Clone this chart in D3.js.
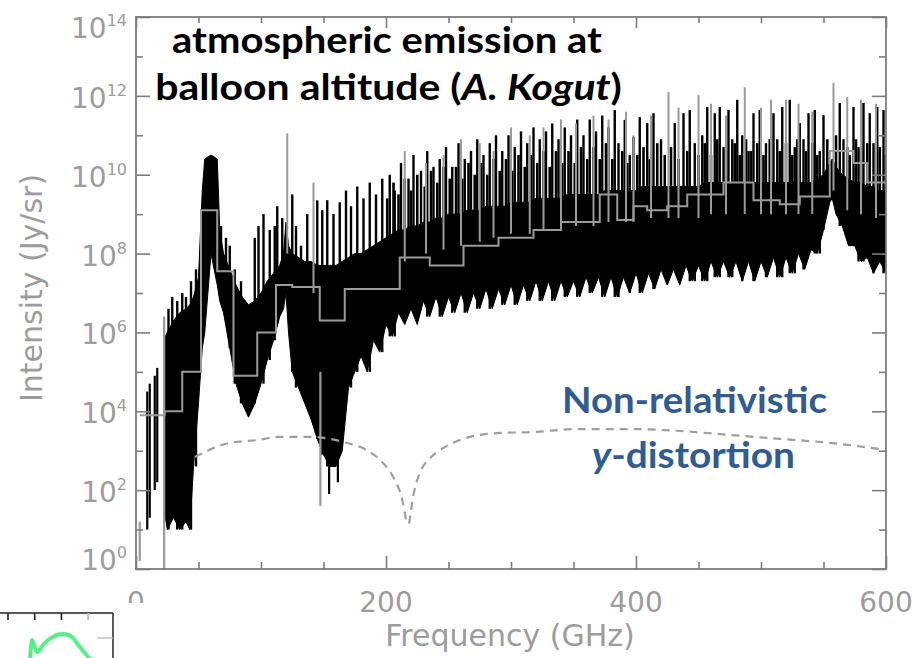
<!DOCTYPE html>
<html>
<head>
<meta charset="utf-8">
<script src="https://cdn.jsdelivr.net/npm/d3@7"></script>
<style>
  html, body { margin: 0; padding: 0; background: #fff; }
  svg { display: block; }
</style>
</head>
<body>
<svg id="chart" width="918" height="658"></svg>
<script>
// ---------- data (intensities given as log10 of Jy/sr) ----------

// dense atmospheric band: lower and upper edge of the solid black region
const bandFreq = [22,25,30,35,40,43,46,50,53,55,60,65,67,70,75,80,85,90,95,100,105,110,115,118,120,122,125,130,135,140,145,150,155,160,165,170,175,180,185,190,195,200,
  205,210,215,220,225,230,235,240,245,250,255,260,265,270,275,280,285,290,295,300,305,310,315,320,325,330,335,340,345,350,355,360,365,370,375,380,385,390,395,400,
  405,410,415,420,425,430,435,440,445,450,455,460,465,470,475,480,485,490,495,500,505,510,515,520,525,530,535,540,545,550,555,557,560,565,570,575,580,585,590,595,600];
const bandLow = [1.6,1.0,1.3,1.0,1.2,1.0,2.6,4.2,5.6,6.0,8.0,7.2,6.8,6.5,5.6,4.7,4.2,3.85,4.2,4.7,5.3,5.8,6.4,6.6,7.0,6.0,5.0,4.6,4.2,3.8,3.3,2.9,2.6,2.6,3.0,4.6,5.0,5.4,5.0,5.8,5.5,6.2,
  5.9,6.5,6.2,6.6,6.2,6.8,6.4,6.9,6.4,6.9,6.5,7.0,6.5,7.0,6.6,7.1,6.6,7.1,6.7,7.2,6.7,7.2,6.8,7.3,6.8,7.3,6.8,7.3,6.9,7.3,6.9,7.4,7.0,7.4,6.9,7.4,6.9,7.4,7.0,7.5,
  7.0,7.5,7.1,7.6,7.2,7.6,7.2,7.7,7.3,7.7,7.3,7.8,7.4,7.8,7.4,7.8,7.3,7.8,7.3,7.8,7.4,7.9,7.4,7.9,7.5,8.0,7.6,8.1,8.0,8.6,9.3,9.4,9.0,8.7,8.2,8.2,7.8,7.9,7.5,7.8,7.5];
const bandHigh = [5.8,6.0,6.3,6.5,6.6,6.7,6.9,7.4,9.6,10.4,10.5,10.4,8.6,8.0,7.6,7.2,6.9,6.7,6.8,7.0,7.3,7.5,7.7,8.0,8.8,8.2,8.0,7.9,7.8,7.8,7.7,7.7,7.7,7.7,7.8,7.9,8.0,8.0,8.1,8.2,8.3,8.4,
  8.5,8.6,8.6,8.7,8.7,8.8,8.8,8.9,8.9,9.0,9.0,9.0,9.1,9.1,9.1,9.2,9.2,9.2,9.2,9.3,9.3,9.3,9.3,9.4,9.4,9.4,9.4,9.4,9.5,9.5,9.5,9.5,9.5,9.5,9.6,9.6,9.6,9.6,9.6,9.6,
  9.7,9.7,9.7,9.7,9.7,9.7,9.7,9.7,9.7,9.7,9.8,9.8,9.8,9.8,9.8,9.8,9.8,9.8,9.8,9.8,9.8,9.8,9.8,9.8,9.8,9.8,9.8,9.8,9.9,10.0,10.3,10.4,10.2,10.0,9.9,9.8,9.8,9.7,9.7,9.6,9.6];

// strong black emission lines rising out of the band
const blackLineFreq = [26,29,33,37,40,44,48,68,72,75,79,84,95,98,102,107,111,113,117,
  125,128,132,137,145,149,153,158,163,168,172,177,182,187,192,197,
  203,207,212,218,222,228,233,238,243,248,253,258,263,268,273,278,283,288,293,298,303,308,313,318,323,328,333,338,343,348,353,358,363,368,373,378,
  383,386,391,395,398,403,409,414,420,431,438,443,447,453,457,463,467,470,474,477,481,485,490,494,499,504,510,513,517,523,527,531,534,538,543,547,550,563,566,574,578,582,587,590,593,598];
const blackLineTop = [6.6,6.9,6.8,7.0,6.9,7.3,7.6,8.7,8.4,8.2,7.6,7.3,8.4,8.7,9.0,8.6,8.7,9.2,8.9,
  9.5,8.7,8.2,9.0,9.35,9.1,9.35,9.0,9.3,9.6,9.2,9.7,9.4,9.8,9.5,9.9,
  10.0,9.6,10.3,9.9,10.5,10.1,10.6,10.2,10.4,10.7,10.2,10.8,10.4,10.6,10.9,10.5,10.8,11.0,10.6,11.0,10.7,11.1,10.8,11.2,10.9,11.1,11.3,10.9,11.2,11.0,11.4,11.0,11.4,11.1,11.5,11.2,
  11.64,10.8,11.39,10.5,10.96,11.46,11.31,11.56,10.9,11.31,11.56,11.64,10.8,11.0,11.72,11.56,11.72,10.7,11.64,10.9,11.9,11.0,10.6,11.56,11.64,10.8,11.56,10.9,11.72,11.9,10.7,11.31,10.9,11.56,11.64,10.6,11.51,11.82,10.9,11.72,10.7,11.82,11.56,10.8,11.72,11.64];

// weaker black lines filling the comb between the strong ones
const weakLineFreq = [201,206,210,215,220,225,231,236,241,246,251,256,261,266,271,276,281,286,291,296,301,306,311,316,321,326,331,336,341,346,351,356,361,366,371,376,381,
  389,393,401,406,411,417,423,428,434,441,450,455,460,465,472,479,483,488,492,497,502,507,515,520,525,529,536,541,545,553,560,569,571,576,580,585,595,600];
const weakLineTop = [9.4,9.8,9.5,9.9,9.6,10.0,9.7,10.1,9.8,10.2,9.9,10.2,9.9,10.3,10.0,10.3,10.0,10.4,10.1,10.4,10.1,10.5,10.2,10.5,10.3,10.6,10.2,10.6,10.3,10.6,10.3,10.7,10.4,10.7,10.4,10.8,10.4,
  10.6,10.3,10.5,10.7,10.4,10.8,10.5,10.7,10.4,10.6,10.5,10.8,10.5,10.9,10.6,10.8,10.5,10.9,10.6,10.8,10.5,10.9,10.6,10.8,10.5,10.9,10.6,10.8,10.5,10.9,11.0,10.7,10.5,10.9,10.6,10.8,10.7,10.5];

// lines of the lower-resolution (grey) spectrum
const greyLineFreq = [121,142,215,232,246,260,275,286,300,315,326,340,352,366,378,392,398,412,426,434,450,460,472,487,500,508,520,530,541,558,569,580,592];
const greyLineTop  = [11.05,9.8,10.6,10.3,10.5,10.9,10.8,10.6,11.2,11.0,11.2,11.4,11.3,11.5,11.4,11.6,11.0,11.5,12.1,11.7,12.02,11.8,11.5,12.22,11.7,11.9,11.9,11.8,11.6,12.33,11.97,11.9,11.8];

// isolated lines (low-frequency lines and deep absorption troughs)
const isoFreq  = [3,9,11,15,17,22.5,147.5,154.5,161.5];
const isoLow   = [0.2,1.0,1.3,2.0,2.2,0.0,1.6,1.9,2.2];
const isoHigh  = [1.2,4.5,4.7,4.9,5.1,6.4,5.0,5.0,5.0];
const isoShade = ["grey","black","black","black","black","grey","grey","black","black"];

// binned (grey) spectrum: bin start frequency and level; last bin ends at 600 GHz
const binStart = [3,23,37,52,65,78,97,112,125,147,167,211,235,262,290,318,340,371,385,398,409,425,441,470,494,515,531,555,574,585];
const binLevel = [3.9,4.0,5.0,9.1,7.55,4.9,6.0,7.2,7.15,6.3,7.1,7.9,7.7,8.2,8.4,8.6,8.8,9.5,8.85,9.2,9.1,9.2,9.5,9.8,9.35,9.25,9.45,10.6,10.3,9.8];
const binEnd = 600;

// non-relativistic y-distortion |ΔI|, two branches either side of the null
const yDistFreqA = [47,75,97,115,139,166,187,199,207,213,216.5];
const yDistValA  = [2.84,3.20,3.27,3.35,3.35,3.22,2.97,2.64,2.26,1.75,1.15];
const yDistFreqB = [218.5,222,227,235,247,267,291,315,355,395,435,475,515,555,600];
const yDistValB  = [1.15,1.88,2.43,2.80,3.09,3.35,3.45,3.47,3.55,3.55,3.50,3.40,3.30,3.20,3.02];

// axes
const xMajorTicks = [0,200,400,600];
const xMinorTicks = [50,100,150,250,300,350,450,500,550];
const yMajorExp = [0,2,4,6,8,10,12,14];
const yMinorExp = [1,3,5,7,9,11,13];

// neighbouring panel peeking in at the lower left (green curve)
const insetX = [0.82,0.86,0.90,1.01,1.09,1.31,1.50,1.69,1.87,2.06,2.25,2.40,2.55,2.70,2.85,3.00,3.11];
const insetY = [0.0,0.55,0.91,0.55,0.36,0.68,0.91,1.05,1.16,1.18,1.14,1.05,0.82,0.59,0.36,0.14,-0.05];
const insetTicks = [0,1,2,3];

// ---------- drawing ----------
const svg = d3.select("#chart");
const frame = { l: 136, r: 886, t: 17, b: 569 };

const x = d3.scaleLinear().domain([0, 600]).range([frame.l, frame.r]);
const yLog = d3.scaleLog().domain([1, 1e14]).range([frame.b, frame.t]);
const y = e => yLog(Math.pow(10, e));

const AXIS = "#7d7d7d", LABEL = "#9c9c9c", GREY = "#9a9a9a";

const plot = svg.append("g");
plot.append("clipPath").attr("id", "clip")
  .append("rect").attr("x", frame.l).attr("y", frame.t)
  .attr("width", frame.r - frame.l).attr("height", frame.b - frame.t);
const data = plot.append("g").attr("clip-path", "url(#clip)");

// solid band
const band = bandFreq.map((f, i) => ({ f, lo: bandLow[i], hi: bandHigh[i] }));
data.append("path")
  .datum(band)
  .attr("fill", "#000")
  .attr("stroke", "#000")
  .attr("stroke-width", 1)
  .attr("d", d3.area().x(d => x(d.f)).y0(d => y(d.lo)).y1(d => y(d.hi)));

const nearest = f => band[d3.minIndex(band, d => Math.abs(d.f - f))];

function drawLines(freqs, tops, color, width, bottomOf) {
  data.append("g").selectAll("line")
    .data(freqs.map((f, i) => ({ f, top: tops[i] })))
    .join("line")
    .attr("x1", d => x(d.f)).attr("x2", d => x(d.f))
    .attr("y1", d => y(d.top)).attr("y2", d => y(bottomOf(d.f)))
    .attr("stroke", color).attr("stroke-width", width);
}
drawLines(weakLineFreq, weakLineTop, "#000", 2.6, f => nearest(f).hi - 0.3);
drawLines(blackLineFreq, blackLineTop, "#000", 2.4, f => nearest(f).lo);

// isolated lines
data.append("g").selectAll("line")
  .data(isoFreq.map((f, i) => ({ f, lo: isoLow[i], hi: isoHigh[i], shade: isoShade[i] })))
  .join("line")
  .attr("x1", d => x(d.f)).attr("x2", d => x(d.f))
  .attr("y1", d => y(d.hi)).attr("y2", d => d.lo <= 0 ? frame.b : y(d.lo))
  .attr("stroke", d => d.shade === "grey" ? GREY : "#000")
  .attr("stroke-width", 2.2);

// grey spectrum lines
drawLines(greyLineFreq, greyLineTop, GREY, 2, f => nearest(f).hi - 0.8);

// binned grey spectrum as a step line
const steps = binStart.map((f, i) => ({ f, v: binLevel[i] }));
steps.push({ f: binEnd, v: binLevel[binLevel.length - 1] });
data.append("path")
  .datum(steps)
  .attr("fill", "none")
  .attr("stroke", GREY)
  .attr("stroke-width", 2)
  .attr("d", d3.line().x(d => x(d.f)).y(d => y(d.v)).curve(d3.curveStepAfter));

// y-distortion (dashed)
const dashLine = d3.line().x(d => x(d.f)).y(d => y(d.v)).curve(d3.curveMonotoneX);
[[yDistFreqA, yDistValA], [yDistFreqB, yDistValB]].forEach(([fs, vs]) => {
  data.append("path")
    .datum(fs.map((f, i) => ({ f, v: vs[i] })))
    .attr("fill", "none")
    .attr("stroke", "#9f9f9f")
    .attr("stroke-width", 2.2)
    .attr("stroke-dasharray", "8,6")
    .attr("d", dashLine);
});

// frame
plot.append("rect")
  .attr("x", frame.l).attr("y", frame.t)
  .attr("width", frame.r - frame.l).attr("height", frame.b - frame.t)
  .attr("fill", "none").attr("stroke", AXIS).attr("stroke-width", 1.8);

// ticks (all pointing inward)
function styleAxis(g) {
  g.select(".domain").remove();
  g.selectAll(".tick line").attr("stroke", AXIS).attr("stroke-width", 1.6);
  g.selectAll(".tick text").remove();
}
const pow10 = e => Math.pow(10, e);
svg.append("g").attr("transform", `translate(0,${frame.b})`)
  .call(d3.axisBottom(x).tickValues(xMajorTicks).tickSize(-13)).call(styleAxis);
svg.append("g").attr("transform", `translate(0,${frame.b})`)
  .call(d3.axisBottom(x).tickValues(xMinorTicks).tickSize(-7)).call(styleAxis);
svg.append("g").attr("transform", `translate(0,${frame.t})`)
  .call(d3.axisTop(x).tickValues(xMajorTicks).tickSize(-11)).call(styleAxis);
svg.append("g").attr("transform", `translate(0,${frame.t})`)
  .call(d3.axisTop(x).tickValues(xMinorTicks).tickSize(-6)).call(styleAxis);
svg.append("g").attr("transform", `translate(${frame.l},0)`)
  .call(d3.axisLeft(yLog).tickValues(yMajorExp.map(pow10)).tickSize(-14)).call(styleAxis);
svg.append("g").attr("transform", `translate(${frame.l},0)`)
  .call(d3.axisLeft(yLog).tickValues(yMinorExp.map(pow10)).tickSize(-7)).call(styleAxis);
svg.append("g").attr("transform", `translate(${frame.r},0)`)
  .call(d3.axisRight(yLog).tickValues(yMajorExp.map(pow10)).tickSize(-14)).call(styleAxis);
svg.append("g").attr("transform", `translate(${frame.r},0)`)
  .call(d3.axisRight(yLog).tickValues(yMinorExp.map(pow10)).tickSize(-7)).call(styleAxis);

const tickFont = "'DejaVu Sans', sans-serif";

// x tick labels
svg.append("g").selectAll("text")
  .data(xMajorTicks)
  .join("text")
  .attr("x", d => x(d)).attr("y", 612)
  .attr("text-anchor", "middle")
  .attr("font-family", tickFont).attr("font-size", 28)
  .attr("fill", LABEL)
  .text(d => d);

// y tick labels: 10 with a superscript exponent
const labelShift = e => e === 14 ? 11 : (e === 0 ? -9 : 2);
const yl = svg.append("g").selectAll("text")
  .data(yMajorExp)
  .join("text")
  .attr("x", 127)
  .attr("y", d => y(d) + labelShift(d) + 10)
  .attr("text-anchor", "end")
  .attr("font-family", tickFont).attr("font-size", 28)
  .attr("fill", LABEL);
yl.append("tspan").text("10");
yl.append("tspan").attr("dy", -12).attr("font-size", 16).text(d => d);

// axis titles
svg.append("text")
  .attr("x", 510).attr("y", 646)
  .attr("text-anchor", "middle")
  .attr("font-family", tickFont).attr("font-size", 30)
  .attr("fill", LABEL)
  .text("Frequency (GHz)");
svg.append("text")
  .attr("transform", "translate(42,288) rotate(-90)")
  .attr("text-anchor", "middle")
  .attr("font-family", tickFont).attr("font-size", 30)
  .attr("fill", LABEL)
  .text("Intensity (Jy/sr)");

// annotations, squeezed horizontally to their set widths
function fitText(cx, baseline, width, size, color, parts) {
  const t = svg.append("text")
    .attr("text-anchor", "middle")
    .attr("font-family", "Lato, 'Open Sans', sans-serif")
    .attr("font-weight", 700)
    .attr("font-size", size)
    .attr("fill", color);
  parts.forEach(([s, italic]) => {
    t.append("tspan").attr("font-style", italic ? "italic" : "normal").text(s);
  });
  const w = t.node().getComputedTextLength();
  t.attr("transform", `translate(${cx},${baseline}) scale(${width / w},1)`);
  return t;
}
fitText(387, 53, 430, 36, "#000", [["atmospheric emission at", false]]);
fitText(388.5, 100, 467, 36, "#000", [["balloon altitude (", false], ["A. Kogut", true], [")", false]]);
const BLUE = "#305c92";
fitText(694.5, 413, 265, 36, BLUE, [["Non-relativistic", false]]);
fitText(693.5, 468, 203, 36, BLUE, [["y", true], ["-distortion", false]]);

// neighbouring panel at lower left (white background covers part of the axis label)
const inset = svg.append("g");
inset.append("rect").attr("x", 0).attr("y", 603).attr("width", 150).attr("height", 55).attr("fill", "#fff");
const ix = d3.scaleLinear().domain([0, 1]).range([8, 34.7]);
const iy = d3.scaleLinear().domain([0, 1]).range([660, 638]);
inset.append("path")
  .datum(insetX.map((v, i) => ({ a: v, b: insetY[i] })))
  .attr("fill", "none").attr("stroke", "#55f086").attr("stroke-width", 4)
  .attr("stroke-linejoin", "round")
  .attr("d", d3.line().x(d => ix(d.a)).y(d => iy(d.b)).curve(d3.curveMonotoneX));
inset.append("line").attr("x1", -2).attr("x2", 113).attr("y1", 613).attr("y2", 613)
  .attr("stroke", "#222").attr("stroke-width", 1.6);
inset.append("line").attr("x1", 113).attr("x2", 113).attr("y1", 613).attr("y2", 660)
  .attr("stroke", "#333").attr("stroke-width", 1.6);
inset.append("g").selectAll("line").data(insetTicks).join("line")
  .attr("x1", d => ix(d)).attr("x2", d => ix(d)).attr("y1", 613).attr("y2", 620)
  .attr("stroke", (d, i) => i === 3 ? "#bbb" : "#222").attr("stroke-width", 1.6);
inset.append("line").attr("x1", 97).attr("x2", 113).attr("y1", iy(1)).attr("y2", iy(1))
  .attr("stroke", "#bbb").attr("stroke-width", 1.4);
</script>
</body>
</html>
